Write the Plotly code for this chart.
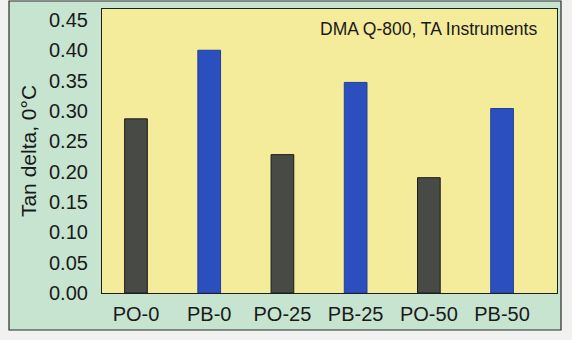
import plotly.graph_objects as go

# Sample labels and tan delta values at 0 °C
samples = ["PO-0", "PB-0", "PO-25", "PB-25", "PO-50", "PB-50"]
tan_delta = [0.287, 0.400, 0.228, 0.347, 0.190, 0.304]
bar_colors = ["#474a45", "#2b4fbf", "#474a45", "#2b4fbf", "#474a45", "#2b4fbf"]
edge_colors = ["#1c1c1c", "#223f9a", "#1c1c1c", "#223f9a", "#1c1c1c", "#223f9a"]

y_ticks = [0.00, 0.05, 0.10, 0.15, 0.20, 0.25, 0.30, 0.35, 0.40, 0.45]

W, H = 572, 340
ML, MR, MT, MB = 102, 15, 9, 47

fig = go.Figure(
    go.Bar(
        x=list(range(len(samples))),
        y=tan_delta,
        width=0.31,
        marker=dict(color=bar_colors, line=dict(color=edge_colors, width=1)),
        hoverinfo="skip",
    )
)

pw = W - ML - MR
ph = H - MT - MB


def px_to_paper_x(px):
    return (px - ML) / pw


def px_to_paper_y(py):
    return (H - MB - py) / ph


# Mint outer panel with dark border, then the yellow plotting field
fig.add_shape(
    type="rect", xref="paper", yref="paper", layer="below",
    x0=px_to_paper_x(9), x1=px_to_paper_x(561),
    y0=px_to_paper_y(330), y1=px_to_paper_y(1),
    fillcolor="#c6e4d0", line=dict(color="#2a2a2a", width=1.2),
)
fig.add_shape(
    type="rect", xref="x domain", yref="y domain", layer="below",
    x0=0, x1=1, y0=0, y1=1,
    fillcolor="#f4eb9b", line=dict(width=0),
)

fig.add_annotation(
    text="DMA Q-800, TA Instruments",
    xref="paper", yref="paper",
    x=px_to_paper_x(539), y=px_to_paper_y(29),
    xanchor="right", yanchor="middle", showarrow=False,
    font=dict(family="Liberation Sans, Arial, sans-serif", size=17.5, color="#1a1a1a"),
)

font = dict(family="Liberation Sans, Arial, sans-serif", size=20, color="#1a1a1a")
title_font = dict(family="Liberation Sans, Arial, sans-serif", size=21, color="#1a1a1a")

fig.update_layout(
    width=W, height=H,
    margin=dict(l=ML, r=MR, t=MT, b=MB, pad=0),
    paper_bgcolor="#f1f2f0",
    plot_bgcolor="rgba(0,0,0,0)",
    showlegend=False,
    font=font,
    xaxis=dict(
        range=[-0.464, 5.75],
        tickmode="array",
        tickvals=list(range(len(samples))),
        ticktext=samples,
        showgrid=False, zeroline=False,
        showline=True, mirror=True, linecolor="#1e1e1e", linewidth=1.2,
        ticks="", tickfont=font, ticklabelstandoff=3,
    ),
    yaxis=dict(
        range=[0, 0.468],
        tickmode="array",
        tickvals=y_ticks,
        ticktext=[f"{v:.2f}" for v in y_ticks],
        showgrid=False, zeroline=False,
        showline=True, mirror=True, linecolor="#1e1e1e", linewidth=1.2,
        ticks="", tickfont=font, ticklabelstandoff=9,
        title=dict(text="Tan delta, 0°C", font=title_font, standoff=6),
    ),
)

fig.write_html("out.html")
